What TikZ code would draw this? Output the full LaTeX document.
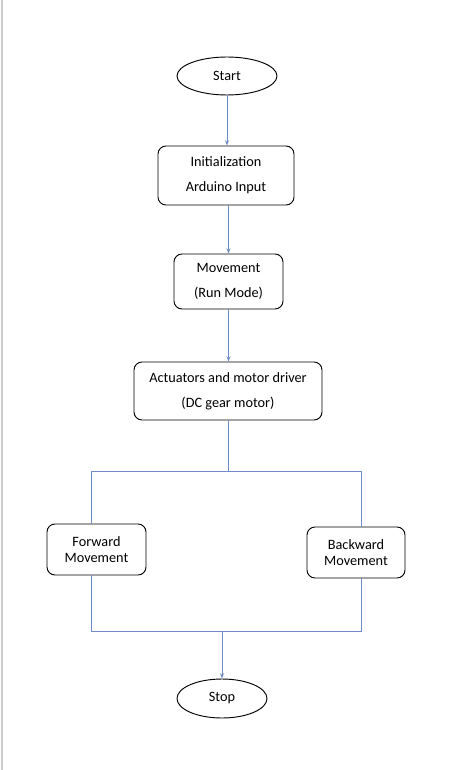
\documentclass[tikz,border=0pt]{standalone}
\usepackage{fontspec}
\setmainfont{Carlito}
\usetikzlibrary{arrows.meta,shapes.geometric}
\definecolor{linkblue}{RGB}{110,140,198}

\tikzset{
  flowline/.style={draw=linkblue, line width=0.75pt},
  flowarrow/.style={flowline, -{Stealth[length=4pt,width=3pt]}},
  terminal/.style={draw, ellipse, line width=0.7pt, inner sep=0pt, font=\fontsize{10.7}{12}\selectfont},
  procbox/.style={draw, rounded corners=6pt, line width=0.7pt, align=center, inner sep=0pt, font=\fontsize{10.7}{12}\selectfont}
}

\begin{document}
\begin{tikzpicture}[x=0.75pt, y=-0.75pt]
\useasboundingbox (0,0) rectangle (473,770);
\draw[gray!40, line width=1pt] (2,0) -- (2,770); %page edge

\node [terminal, minimum width=100*0.75pt, minimum height=38*0.75pt] (start) at (227,76) {Start};
\node [procbox, minimum width=136*0.75pt, minimum height=59*0.75pt] (init) at (226,175.5) {Initialization\\[7pt]Arduino Input};
\node [procbox, minimum width=109*0.75pt, minimum height=55*0.75pt] (move) at (228.5,281.5) {Movement\\[7pt](Run Mode)};
\node [procbox, minimum width=188*0.75pt, minimum height=58*0.75pt] (act) at (228,391) {Actuators and motor driver\\[7pt](DC gear motor)};
\node [procbox, minimum width=99*0.75pt, minimum height=51*0.75pt] (fwd) at (96.5,549.5) {Forward\\[0pt]Movement};
\node [procbox, minimum width=98*0.75pt, minimum height=51*0.75pt] (bwd) at (356,552.5) {Backward\\[0pt]Movement};
\node [terminal, minimum width=90*0.75pt, minimum height=39*0.75pt] (stop) at (222,698.5) {Stop};

\coordinate (split) at (228,471);
\coordinate (splitL) at (91,471);
\coordinate (splitR) at (361,471);
\coordinate (joinL) at (91,631);
\coordinate (joinR) at (361,631);
\coordinate (join) at (222,631);

\draw [flowarrow] (start.south) -- (start.south |- init.north);
\draw [flowarrow] (init.south -| move.north) -- (move.north);
\draw [flowarrow] (move.south) -- (move.south |- act.north);
\draw [flowline] (act.south) -- (split);
\draw [flowline] (splitL) -- (splitR);
\draw [flowline] (splitL) -- (splitL |- fwd.north);
\draw [flowline] (splitR) -- (splitR |- bwd.north);
\draw [flowline] (joinL |- fwd.south) -- (joinL) -- (joinR) -- (joinR |- bwd.south);
\draw [flowarrow] (join) -- (stop.north);

\end{tikzpicture}
\end{document}
